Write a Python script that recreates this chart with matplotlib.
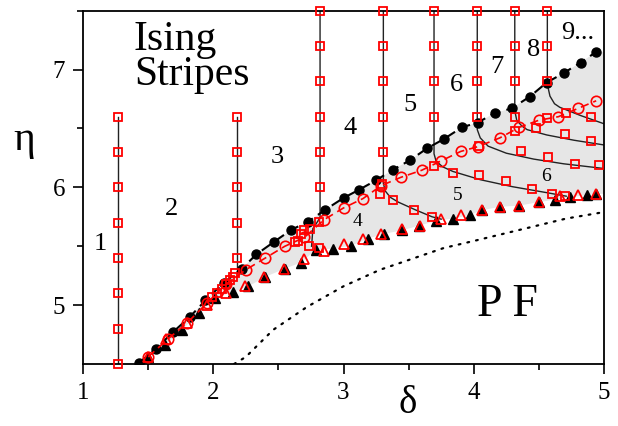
import numpy as np
import matplotlib
matplotlib.use("Agg")
import matplotlib.pyplot as plt

plt.rcParams['font.family'] = ['Liberation Serif', 'DejaVu Serif']

# ---- data ----
dots_x = [1.43,1.56,1.69,1.82,1.94,2.08,2.22,2.33,2.47,2.60,2.73,2.86,3.00,3.12,3.25,3.38,3.51,3.64,3.77,3.91,4.03,4.16,4.29,4.43,4.56,4.69,4.82,4.94]
dots_y = [4.51,4.63,4.77,4.90,5.04,5.19,5.31,5.43,5.54,5.64,5.71,5.81,5.91,5.98,6.06,6.15,6.23,6.33,6.41,6.51,6.55,6.63,6.67,6.77,6.89,6.97,7.06,7.15]

tri_x = [1.50,1.63,1.76,1.89,2.01,2.15,2.27,2.40,2.55,2.67,2.79,2.92,3.06,3.19,3.31,3.45,3.58,3.71,3.84,3.97,4.06,4.20,4.35,4.50,4.62,4.74,4.87,4.94]
tri_y = [4.56,4.66,4.79,4.93,5.06,5.11,5.16,5.24,5.31,5.36,5.47,5.48,5.505,5.565,5.605,5.635,5.675,5.715,5.735,5.765,5.805,5.835,5.845,5.875,5.895,5.915,5.935,5.945]

otri_x = [1.50,1.64,1.80,1.95,2.10,2.24,2.39,2.54,2.70,2.85,3.00,3.15,3.29,3.45,3.59,3.75,3.90,4.06,4.20,4.35,4.50,4.66,4.80,4.94]
otri_y = [4.56,4.71,4.85,5.005,5.10,5.16,5.24,5.31,5.39,5.46,5.515,5.565,5.605,5.645,5.675,5.735,5.765,5.805,5.835,5.845,5.875,5.925,5.935,5.945]

circ_x = [1.50,1.65,1.80,1.95,2.10,2.25,2.40,2.55,2.70,2.85,3.00,3.15,3.29,3.44,3.60,3.75,3.90,4.03,4.20,4.35,4.50,4.65,4.80,4.94]
circ_y = [4.56,4.71,4.85,5.015,5.18,5.30,5.40,5.50,5.575,5.725,5.825,5.905,6.015,6.085,6.145,6.225,6.305,6.345,6.42,6.51,6.57,6.60,6.67,6.735]

pf_x = [2.16,2.25,2.46,2.72,3.00,3.28,3.77,4.02,4.71,5.00]
pf_y = [4.50,4.56,4.79,4.985,5.16,5.30,5.485,5.55,5.735,5.79]

# phase boundary lines (vertical parts + curves)
bound_x = [
    [1.265,1.265],
    [2.18,2.18],
    [2.82,2.82,2.79,2.765,2.755],
    [3.306,3.306,3.32,3.36,3.42,3.55,3.68,3.75],
    [3.695,3.695,3.71,3.76,3.84,4.05,4.30,4.56,4.71],
    [4.027,4.027,4.05,4.11,4.25,4.46,4.69,5.00],
    [4.315,4.315,4.33,4.37,4.41,4.56,4.77,5.00],
    [4.565,4.565,4.585,4.62,4.66,4.82,5.00],
]
bound_y = [
    [4.5,6.6],
    [5.27,6.6],
    [7.5,5.745,5.69,5.65,5.50],
    [7.5,6.035,5.97,5.915,5.875,5.81,5.75,5.73],
    [7.5,6.285,6.225,6.175,6.135,6.065,6.005,5.955,5.925],
    [7.5,6.49,6.42,6.35,6.29,6.24,6.20,6.16],
    [7.5,6.65,6.57,6.52,6.49,6.445,6.40,6.36],
    [7.5,6.875,6.775,6.71,6.68,6.61,6.54],
]

# red open squares
sq_x = ([1.265]*8 + [2.18]*5 + [2.82]*6 + [3.306]*5 + [3.695]*4 + [4.027]*4 + [4.315]*4 + [4.565]*3
        + [1.99,2.03,2.07,2.10,2.13,2.15,2.17]
        + [2.63,2.65,2.67,2.70,2.74,2.81,2.737,2.81]
        + [3.293,3.28,3.38,3.54,3.68]
        + [3.695,3.84,4.04,4.25,4.445,4.60,4.70]
        + [4.04,4.36,4.57,4.78,4.96]
        + [4.317,4.48,4.70,4.90]
        + [4.565,4.71,4.90])
sq_y = ([4.5,4.8,5.1,5.4,5.7,6.0,6.3,6.6] + [5.4,5.7,6.0,6.3,6.6] + [6.0,6.3,6.6,6.9,7.2,7.5]
        + [6.3,6.6,6.9,7.2,7.5] + [6.6,6.9,7.2,7.5] + [6.6,6.9,7.2,7.5] + [6.6,6.9,7.2,7.5] + [6.9,7.2,7.5]
        + [5.07,5.10,5.14,5.18,5.21,5.24,5.27]
        + [5.535,5.545,5.605,5.635,5.65,5.705,5.505,5.485]
        + [6.025,5.945,5.895,5.805,5.75]
        + [6.185,6.125,6.105,6.055,5.985,5.945,5.925]
        + [6.35,6.31,6.26,6.20,6.19]
        + [6.48,6.50,6.45,6.39]
        + [6.59,6.63,6.60])

labels = ["1","2","3","4","5","6","7","8","9..."]
label_x = [1.13,1.68,2.49,3.05,3.51,3.87,4.18,4.457,4.80]
label_y = [5.52,5.82,6.26,6.50,6.70,6.87,7.02,7.17,7.31]
small_labels = ["4","5","6"]
small_x = [3.11,3.88,4.555]
small_y = [5.71,5.93,6.09]

xticks = [1,2,3,4,5]
yticks = [5,6,7]

# ---- figure ----
fig = plt.figure(figsize=(6.18,4.26), dpi=100)
ax = fig.add_axes([83/618, 1-364/426, (604-83)/618, (364-10.7)/426])
ax.set_xlim(1,5)
ax.set_ylim(4.5,7.5)

# grey region between upper (dots) and lower (triangles) lines
poly_x = dots_x + [5.0, 5.0] + tri_x[::-1]
poly_y = dots_y + [dots_y[-1], tri_y[-1]] + tri_y[::-1]
ax.fill(poly_x, poly_y, color='#e6e6e6', lw=0, zorder=0)

for bx, by in zip(bound_x, bound_y):
    ax.plot(bx, by, color='#222222', lw=1.0, zorder=2)

ax.plot(pf_x, pf_y, color='black', lw=1.6, ls=(0,(0.8,3.2)), dash_capstyle='round', zorder=2)

ax.plot(dots_x, dots_y, color='black', lw=1.5, ls=(0,(5,3)), marker='o', ms=6.5, zorder=4)
ax.plot(tri_x, tri_y, ls='none', color='black', marker='^', ms=7, zorder=4)
ax.plot(otri_x, otri_y, ls='none', marker='^', ms=7.5, mfc='none', mec='red', mew=1.3, zorder=5)
ax.plot(circ_x, circ_y, color='red', lw=1.2, ls=(0,(5,3)), marker='o', ms=7.5, mfc='none', mec='red', mew=1.2, zorder=5)
ax.plot(sq_x, sq_y, ls='none', marker='s', ms=6, mfc='none', mec='red', mew=1.3, zorder=6, clip_on=False)

for t, x, y in zip(labels, label_x, label_y):
    ax.text(x, y, t, fontsize=19, ha='center', va='center', zorder=7)
for t, x, y in zip(small_labels, small_x, small_y):
    ax.text(x, y, t, fontsize=14, ha='center', va='center', zorder=7)

ax.text(1.39, 7.42, "Ising\nStripes", fontsize=30, ha='left', va='top', linespacing=0.9, zorder=7)
ax.text(4.255, 5.0, "P F", fontsize=33, ha='center', va='center', zorder=7)

ax.set_xticks(xticks)
ax.set_yticks(yticks)
ax.set_xticks([1.5,2.5,3.5,4.5], minor=True)
ax.set_yticks([5.5,6.5,7.5], minor=True)
ax.tick_params(which='major', direction='out', length=7, width=1.2, labelsize=18, pad=6)
ax.tick_params(which='minor', direction='out', length=4, width=1.2)
for s in ax.spines.values():
    s.set_linewidth(1.3)

ax.text(-0.113, 0.634, "η", transform=ax.transAxes, fontsize=30, ha='center', va='center')
ax.text(0.624, -0.112, "δ", transform=ax.transAxes, fontsize=28, ha='center', va='center')

fig.savefig("out.png", dpi=100)
